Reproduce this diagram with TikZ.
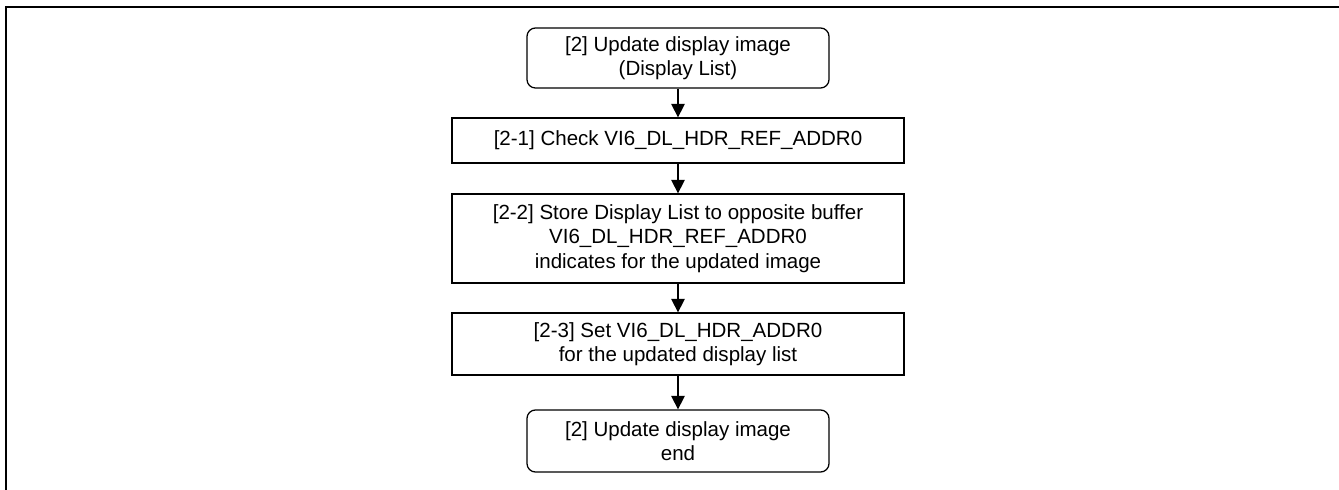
\documentclass[tikz,border=0pt]{standalone}
\usepackage{fontspec}
\setmainfont{Liberation Sans}
\usepackage{tikz}
\usetikzlibrary{arrows.meta}

\begin{document}
\begin{tikzpicture}[
  term/.style={draw, rounded corners=6pt, line width=0.9pt, minimum width=7.55cm,
               minimum height=1.55cm, inner sep=2pt, align=center,
               font=\fontsize{14.6pt}{17.5pt}\selectfont},
  stepbox/.style={draw, line width=0.9pt, minimum width=11.3cm,
                  inner sep=2pt, align=center,
                  font=\fontsize{14.6pt}{17.5pt}\selectfont},
  flow/.style={-{Triangle[length=3.4mm, width=3.4mm]}, line width=0.9pt},
]
  \useasboundingbox (0,0) rectangle (33.475,-12.25);
  % ── frame ──
  \draw[line width=1.5pt] (0.15,-12.25) |- (33.475,-0.175);

  % ── boxes ──
  \node[term, minimum height=1.5cm] (start) at (16.95,-1.45)
    {[2] Update display image\\(Display List)};
  \node[stepbox, minimum height=1.125cm] (check) at (16.95,-3.5125)
    {[2-1] Check VI6\_DL\_HDR\_REF\_ADDR0};
  \node[stepbox, minimum height=2.225cm] (store) at (16.95,-5.9625)
    {[2-2] Store Display List to opposite buffer\\VI6\_DL\_HDR\_REF\_ADDR0\\indicates for the updated image};
  \node[stepbox, minimum height=1.55cm] (setaddr) at (16.95,-8.6)
    {[2-3] Set VI6\_DL\_HDR\_ADDR0\\for the updated display list};
  \node[term] (finish) at (16.95,-11.025)
    {[2] Update display image\\end};

  % ── arrows ──
  \draw[flow] (start) -- (check);
  \draw[flow] (check) -- (store);
  \draw[flow] (store) -- (setaddr);
  \draw[flow] (setaddr) -- (finish);
\end{tikzpicture}
\end{document}
